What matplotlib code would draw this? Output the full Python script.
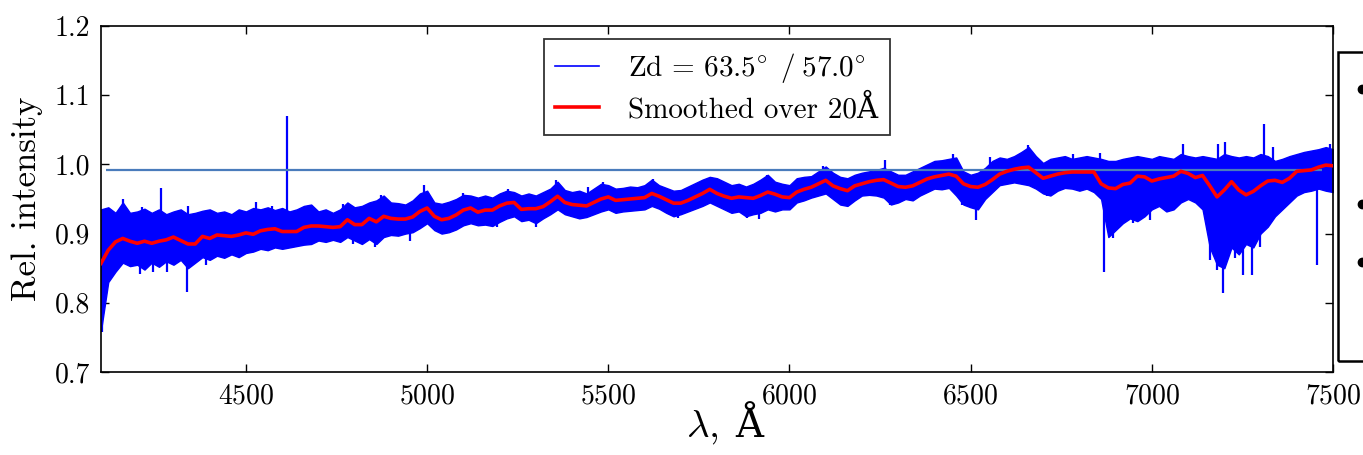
import numpy as np
import matplotlib
matplotlib.use("Agg")
import matplotlib.pyplot as plt
from matplotlib.patches import Rectangle
from matplotlib.lines import Line2D
from matplotlib.offsetbox import TextArea, HPacker, AnchoredOffsetbox

plt.rcParams['font.family'] = ['cmr10', 'DejaVu Serif']
plt.rcParams['mathtext.fontset'] = 'cm'
plt.rcParams['axes.formatter.use_mathtext'] = True

# Wavelength grid of the spectrum (Angstrom)
wavelength = np.arange(4100, 7501, 20)

# Spectrum smoothed over 20 A
smoothed = [
    0.857, 0.876, 0.888, 0.893, 0.889, 0.886, 0.889, 0.886, 0.889, 0.891,
    0.895, 0.890, 0.885, 0.885, 0.896, 0.893, 0.898, 0.897, 0.896, 0.898,
    0.901, 0.899, 0.904, 0.906, 0.907, 0.903, 0.903, 0.903, 0.909, 0.911,
    0.911, 0.910, 0.909, 0.910, 0.920, 0.913, 0.913, 0.922, 0.917, 0.925,
    0.922, 0.921, 0.921, 0.924, 0.932, 0.937, 0.925, 0.920, 0.922, 0.927,
    0.934, 0.937, 0.931, 0.934, 0.934, 0.940, 0.944,
    0.945, 0.935, 0.936, 0.936, 0.939, 0.946, 0.954, 0.945, 0.942, 0.941,
    0.940, 0.945, 0.950, 0.953, 0.948, 0.949, 0.950, 0.951, 0.952, 0.958,
    0.954, 0.949, 0.944, 0.944, 0.948, 0.953, 0.958, 0.964,
    0.958, 0.954, 0.951, 0.953, 0.952, 0.951, 0.955, 0.960, 0.957, 0.953,
    0.952, 0.960, 0.964, 0.967, 0.972, 0.977, 0.969, 0.965, 0.962, 0.969,
    0.972, 0.975, 0.977, 0.978, 0.973, 0.968, 0.967,
    0.969, 0.974, 0.979, 0.982, 0.984, 0.986, 0.983, 0.972, 0.968, 0.967,
    0.971, 0.978, 0.986, 0.990, 0.993, 0.995, 0.996, 0.988, 0.980, 0.983,
    0.986, 0.988, 0.989, 0.989, 0.989, 0.989, 0.972, 0.966,
    0.965, 0.971, 0.973, 0.983, 0.982, 0.976, 0.979, 0.981, 0.983, 0.990,
    0.987, 0.981, 0.984, 0.969, 0.953, 0.963, 0.975, 0.963, 0.956, 0.961,
    0.969, 0.976, 0.977, 0.974, 0.980, 0.990, 0.991, 0.992, 0.996, 0.999,
    0.998,
]

# Upper and lower extent of the raw spectrum on the same grid
raw_upper = [
    0.935, 0.938, 0.930, 0.945, 0.930, 0.932, 0.936, 0.930, 0.935, 0.928,
    0.932, 0.935, 0.928, 0.930, 0.933, 0.935, 0.930, 0.932, 0.928, 0.935,
    0.932, 0.937, 0.935, 0.938, 0.934, 0.937, 0.932, 0.935, 0.940, 0.942,
    0.932, 0.935, 0.930, 0.935, 0.945, 0.938, 0.940, 0.945, 0.948, 0.955,
    0.945, 0.944, 0.942, 0.948, 0.958, 0.962, 0.945, 0.943, 0.946, 0.950,
    0.956, 0.955, 0.952, 0.955, 0.952, 0.958, 0.962,
    0.960, 0.955, 0.958, 0.955, 0.960, 0.965, 0.975, 0.963, 0.960, 0.962,
    0.958, 0.965, 0.972, 0.970, 0.965, 0.966, 0.968, 0.967, 0.970, 0.978,
    0.970, 0.966, 0.962, 0.963, 0.968, 0.973, 0.978, 0.982,
    0.980, 0.975, 0.970, 0.972, 0.968, 0.972, 0.978, 0.985, 0.975, 0.972,
    0.970, 0.980, 0.982, 0.983, 0.990, 0.997, 0.988, 0.982, 0.980, 0.985,
    0.988, 0.990, 0.992, 0.995, 0.990, 0.985, 0.985,
    0.990, 0.995, 1.000, 1.005, 1.006, 1.008, 1.010, 0.990, 0.985, 0.988,
    0.995, 1.005, 1.010, 1.008, 1.012, 1.018, 1.025, 1.012, 1.002, 1.008,
    1.010, 1.012, 1.008, 1.010, 1.012, 1.010, 1.008, 1.005,
    1.005, 1.008, 1.010, 1.012, 1.010, 1.008, 1.012, 1.010, 1.008, 1.015,
    1.012, 1.010, 1.012, 1.010, 1.008, 1.015, 1.012, 1.010, 1.012, 1.010,
    1.015, 1.012, 1.005, 1.008, 1.012, 1.015, 1.018, 1.020, 1.022, 1.025,
    1.022,
]
raw_lower = [
    0.760, 0.830, 0.845, 0.858, 0.853, 0.855, 0.848, 0.858, 0.852, 0.860,
    0.855, 0.862, 0.850, 0.858, 0.866, 0.862, 0.868, 0.865, 0.870, 0.866,
    0.872, 0.874, 0.878, 0.876, 0.880, 0.878, 0.880, 0.882, 0.884, 0.885,
    0.890, 0.888, 0.891, 0.888, 0.895, 0.890, 0.885, 0.892, 0.885, 0.895,
    0.898, 0.897, 0.900, 0.902, 0.908, 0.915, 0.905, 0.900, 0.902, 0.906,
    0.912, 0.915, 0.912, 0.913, 0.911, 0.917, 0.922,
    0.925, 0.918, 0.920, 0.915, 0.922, 0.928, 0.935, 0.928, 0.925, 0.922,
    0.924, 0.928, 0.932, 0.935, 0.930, 0.932, 0.933, 0.934, 0.935, 0.940,
    0.936, 0.930, 0.925, 0.928, 0.932, 0.936, 0.940, 0.945,
    0.940, 0.935, 0.930, 0.932, 0.925, 0.928, 0.930, 0.935, 0.932, 0.935,
    0.935, 0.945, 0.948, 0.952, 0.955, 0.958, 0.950, 0.942, 0.940, 0.948,
    0.955, 0.956, 0.955, 0.952, 0.942, 0.945, 0.950,
    0.948, 0.955, 0.960, 0.965, 0.964, 0.966, 0.955, 0.942, 0.938, 0.935,
    0.950, 0.960, 0.970, 0.972, 0.974, 0.972, 0.970, 0.965, 0.958, 0.955,
    0.962, 0.966, 0.965, 0.962, 0.965, 0.960, 0.950, 0.895,
    0.905, 0.915, 0.922, 0.918, 0.925, 0.935, 0.940, 0.932, 0.935, 0.945,
    0.950, 0.945, 0.935, 0.880, 0.855, 0.850, 0.880, 0.870, 0.885, 0.880,
    0.900, 0.910, 0.925, 0.935, 0.945, 0.955, 0.960, 0.962, 0.965, 0.962,
    0.960,
]

# Narrow emission / absorption features of the raw spectrum
feature_wave = [
    4103, 4161, 4207, 4212, 4244, 4265, 4281, 4338, 4341, 4391, 4529, 4571, 4612,
    4769, 4796, 4856, 4874, 4953, 4992, 5100, 5192, 5224,
    5300, 5357, 5431, 5445, 5486, 5624, 5693,
    5882, 5917, 5937, 6093, 6149, 6264, 6277,
    6452, 6475, 6515, 6553, 6659, 6710, 6783, 6857, 6868,
    6894, 6949, 6995, 7087, 7161, 7179, 7184, 7197, 7202, 7230, 7253, 7276,
    7299, 7310, 7335, 7455, 7492,
]
feature_value = [
    0.758, 0.950, 0.842, 0.938, 0.845, 0.966, 0.845, 0.816, 0.940, 0.855, 0.945, 0.940, 1.070,
    0.943, 0.885, 0.881, 0.956, 0.890, 0.970, 0.958, 0.910, 0.965,
    0.910, 0.977, 0.922, 0.968, 0.975, 0.979, 0.922,
    0.923, 0.921, 0.985, 0.997, 0.941, 1.007, 0.941,
    1.015, 0.941, 0.919, 1.011, 1.028, 0.954, 1.015, 1.016, 0.845,
    0.893, 0.915, 0.920, 1.030, 0.862, 0.848, 1.030, 0.814, 1.033, 0.865, 0.840, 0.840,
    0.880, 1.058, 1.025, 0.855, 1.030,
]

# Reference level
ref_level = 0.992
ref_start, ref_end = 4115, 7470

BLUE = '#0000ff'
RED = '#ff0000'
REF = '#4a7cbc'

fig = plt.figure(figsize=(13.63, 4.55), dpi=100)
ax = fig.add_axes([101 / 1363, 1 - 372 / 455, 1232 / 1363, 346 / 455])

ax.fill_between(wavelength, raw_lower, raw_upper, color=BLUE, lw=1.0,
                edgecolor=BLUE, zorder=2)
base = np.interp(feature_wave, wavelength, smoothed)
ax.vlines(feature_wave, base, feature_value, color=BLUE, lw=1.6, zorder=2)
ax.plot([], [], color=BLUE, lw=1.2,
        label=r'$\mathrm{Zd}\,=\,63.5^{\circ}\;\,/\;57.0^{\circ}$')

ax.hlines(ref_level, ref_start, ref_end, color=REF, lw=1.6, zorder=3)

ax.plot(wavelength, smoothed, color=RED, lw=2.6, zorder=4,
        label='Smoothed over 20Å')

ax.set_xlim(4100, 7500)
ax.set_ylim(0.7, 1.2)
ax.set_xticks([4500, 5000, 5500, 6000, 6500, 7000, 7500])
ax.set_yticks([0.7, 0.8, 0.9, 1.0, 1.1, 1.2])
ax.set_yticklabels(['0.7', '0.8', '0.9', '1.0', '1.1', '1.2'])
ax.tick_params(direction='in', length=6, width=1.0, top=True, right=True,
               labelsize=20, pad=8)
for s in ax.spines.values():
    s.set_linewidth(1.2)

# x label: italic lambda from mathtext, Angstrom sign as plain text
lam = TextArea(r'$\lambda,$', textprops=dict(fontsize=28))
ang = TextArea('Å', textprops=dict(fontsize=28, family=['cmr10', 'DejaVu Serif']))
xlab = HPacker(children=[lam, ang], align='baseline', pad=0, sep=12)
ax.add_artist(AnchoredOffsetbox(loc='upper center', child=xlab, pad=0, borderpad=0,
                                frameon=False, bbox_to_anchor=(0.506, -0.105),
                                bbox_transform=ax.transAxes))
ax.set_ylabel('Rel. intensity', fontsize=25, labelpad=8)

leg = ax.legend(loc='upper center', bbox_to_anchor=(0.5, 0.962),
                borderaxespad=0, fontsize=21, frameon=True, fancybox=False,
                handlelength=1.5, handletextpad=1.0, labelspacing=0.35,
                borderpad=0.4)
leg.get_frame().set_edgecolor('black')
leg.get_frame().set_linewidth(1.3)

# Neighbouring panel box on the right edge
fig.add_artist(Rectangle((1338 / 1363, 1 - 361 / 455), 60 / 1363, 309 / 455,
                         transform=fig.transFigure, fill=False,
                         edgecolor='black', lw=1.8, clip_on=False))
for yb in (89, 204, 262):
    fig.add_artist(Line2D([1362 / 1363], [1 - yb / 455], transform=fig.transFigure,
                          marker='o', markersize=6, color='black', lw=0))

fig.savefig('out.png', dpi=100)
